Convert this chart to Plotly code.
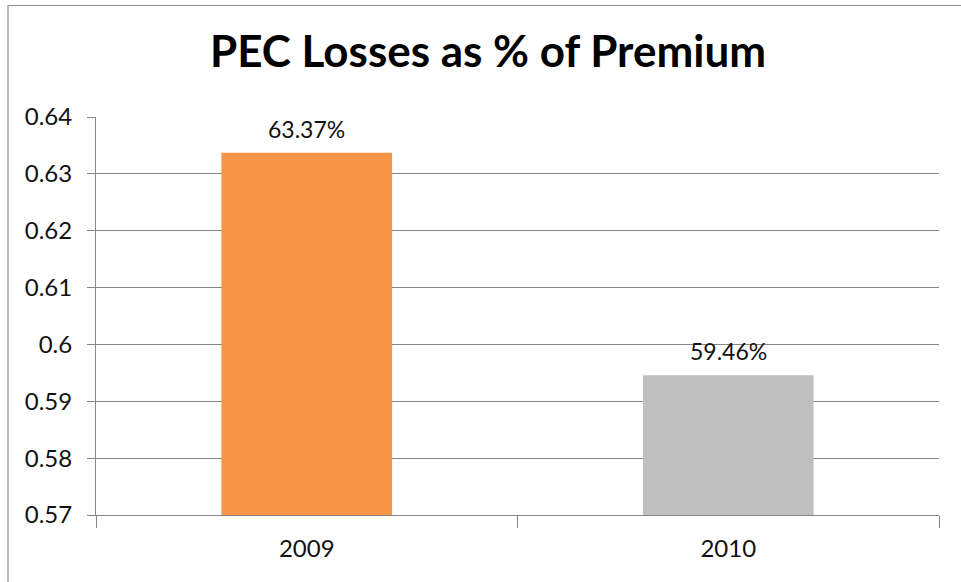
import plotly.graph_objects as go

# Loss ratio by year
years = ["2009", "2010"]
loss_ratio = [0.6337, 0.5946]
bar_colors = ["#F79646", "#BFBFBF"]

y_ticks = [0.57, 0.58, 0.59, 0.60, 0.61, 0.62, 0.63, 0.64]
y_tick_text = ["0.57", "0.58", "0.59", "0.6", "0.61", "0.62", "0.63", "0.64"]

title_text = "PEC Losses as % of Premium"

W, H = 961, 582
FONT = "Lato, 'Noto Sans', sans-serif"
GRID = "#868686"
TEXT = "#111111"

fig = go.Figure(
    go.Bar(
        x=years,
        y=loss_ratio,
        marker=dict(color=bar_colors, line=dict(width=0)),
        hoverinfo="skip",
    )
)

# value labels above each bar, formatted from the bar's value
for i, v in enumerate(loss_ratio):
    fig.add_annotation(
        x=i, y=v, xref="x", yref="y",
        text=f"{v:.2%}", showarrow=False,
        yanchor="bottom", yshift=8,
        font=dict(family=FONT, size=23, color=TEXT),
    )

# chart frame
fig.add_shape(
    type="rect", xref="paper", yref="paper",
    x0=(8 - 96) / (W - 96 - 22), x1=1.2,
    y0=-0.3, y1=1 + (117 - 5.5) / (H - 117 - 67),
    line=dict(color="#8c8c8c", width=1.2),
    fillcolor="rgba(0,0,0,0)", layer="below",
)

fig.update_layout(
    width=W, height=H,
    margin=dict(l=96, r=22, t=117, b=67),
    paper_bgcolor="white",
    plot_bgcolor="white",
    showlegend=False,
    bargap=0.595,
    title=dict(
        text=f"<b>{title_text}</b>",
        x=488 / W, xanchor="center",
        y=1 - 52 / H, yanchor="middle",
        font=dict(family=FONT, size=44, color="#000000"),
    ),
    xaxis=dict(
        type="category",
        categoryorder="array", categoryarray=years,
        range=[-0.5, len(years) - 0.5],
        tickson="boundaries",
        ticks="outside", ticklen=12, tickcolor=GRID, tickwidth=1,
        showline=True, linecolor=GRID, linewidth=1,
        showgrid=False,
        tickangle=0,
        tickfont=dict(family=FONT, size=24, color=TEXT),
        ticklabelstandoff=12,
    ),
    yaxis=dict(
        range=[0.57, 0.64],
        tickvals=y_ticks, ticktext=y_tick_text,
        ticks="outside", ticklen=8, tickcolor=GRID, tickwidth=1,
        showline=True, linecolor=GRID, linewidth=1,
        showgrid=True, gridcolor=GRID, gridwidth=1,
        zeroline=False,
        tickfont=dict(family=FONT, size=24, color=TEXT),
        ticklabelstandoff=10,
    ),
)

fig.write_html("out.html")
